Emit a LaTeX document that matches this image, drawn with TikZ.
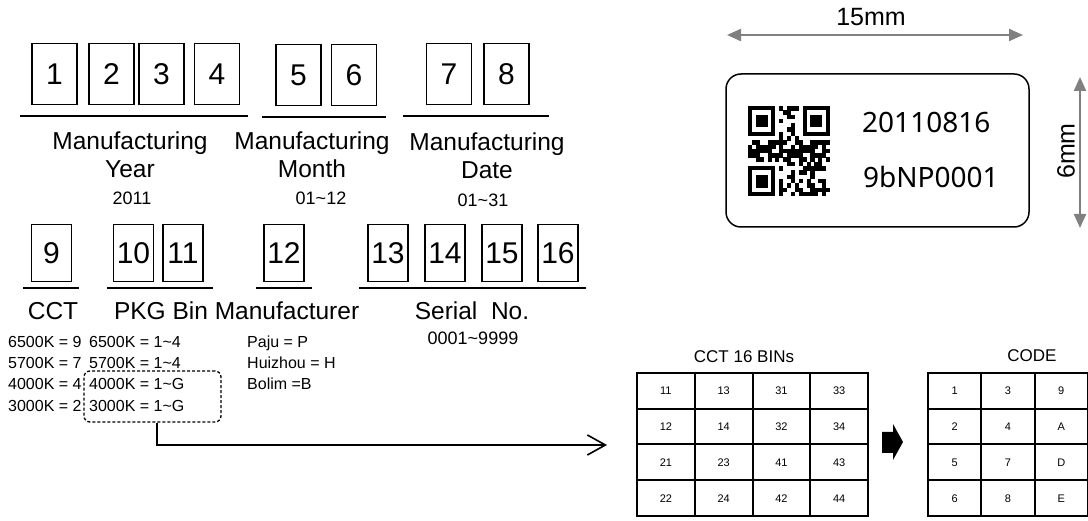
\documentclass[tikz,border=0pt]{standalone}
\usepackage{fontspec}
\setmainfont{Liberation Sans}
\newfontfamily\tagfont{Noto Sans}
\usepackage{tikz}
\usetikzlibrary{arrows.meta}
\definecolor{figline}{RGB}{0,0,0}
\definecolor{dimgray}{RGB}{128,128,128}
\newcommand{\fsz}[2]{\fontsize{#1}{#2}\selectfont}
\tikzset{
  dbox/.style ={draw=figline, line width=1.3pt, minimum width=45pt, minimum height=61pt, inner sep=0pt, font=\fsz{30}{34}},
  dboxs/.style={dbox, minimum width=40pt, minimum height=57pt},
  ul/.style   ={draw=figline, line width=2pt},
  lab/.style  ={font=\fsz{24.5}{28}, align=center, anchor=base, inner sep=0pt},
  val/.style  ={font=\fsz{18}{20}, anchor=base, inner sep=0pt},
  lst/.style  ={font=\fsz{16}{18}, anchor=base west, inner sep=0pt},
  dimarr/.style={draw=dimgray, line width=2.2pt, {Triangle[length=14pt,width=12pt]}-{Triangle[length=14pt,width=12pt]}},
  conn/.style ={draw=figline, line width=1.6pt, -{Straight Barb[length=18pt,width=20pt,line width=1.6pt]}},
  gridl/.style={draw=figline, line width=2pt, line cap=rect},
  cell/.style ={font=\fsz{11}{13}, inner sep=0pt},
  head/.style ={font=\fsz{17}{20}, anchor=base, inner sep=0pt},
}

\begin{document}
\begin{tikzpicture}[x=1pt,y=-1pt]
  \useasboundingbox (0,0) rectangle (1088,521);
  % code digit boxes, first row
  \node[dbox] (d1) at (54.5,74) {1};
  \node[dbox] (d2) at (111.5,74) {2};
  \node[dbox] (d3) at (161.5,74) {3};
  \node[dbox] (d4) at (217,74) {4};
  \node[dbox] (d5) at (298.5,75) {5};
  \node[dbox] (d6) at (354,75) {6};
  \node[dbox] (d7) at (449,74) {7};
  \node[dbox] (d8) at (506.5,74) {8};
  \draw[ul] (20,116) -- (248,116);
  \draw[ul] (262,117) -- (386,117);
  \draw[ul] (403,116) -- (549,116);
  \node[lab] (year) at (130,178) {Manufacturing\\Year};
  \node[lab] (month) at (312,178) {Manufacturing\\Month};
  \node[lab] (date) at (487,179) {Manufacturing\\Date};
  \node[val] (yearv) at (132,205) {2011};
  \node[val] (monthv) at (321,205) {01\textasciitilde 12};
  \node[val] (datev) at (483,207) {01\textasciitilde 31};
  % second row
  \node[dboxs] (d9) at (51.5,253) {9};
  \node[dboxs] (d10) at (133.5,253) {10};
  \node[dboxs] (d11) at (183,253) {11};
  \node[dboxs] (d12) at (284,253) {12};
  \node[dboxs] (d13) at (388,253) {13};
  \node[dboxs] (d14) at (445,253) {14};
  \node[dboxs] (d15) at (502,253) {15};
  \node[dboxs] (d16) at (558,253) {16};
  \draw[ul] (23,288) -- (79,288);
  \draw[ul] (107,288) -- (213,288);
  \draw[ul] (256,288) -- (312,288);
  \draw[ul] (359,288) -- (586,288);
  \node[lab] (cct) at (53,320) {CCT};
  \node[lab] (pkg) at (161,320) {PKG Bin};
  \node[lab] (maker) at (287,320) {Manufacturer};
  \node[lab] (serial) at (472,320) {Serial\ \ No.};
  \node[val] (serialv) at (473,345) {0001\textasciitilde 9999};
  % value lists
  \node[lst] (c1) at (8,348) {6500K = 9};
  \node[lst] (c2) at (8,369) {5700K = 7};
  \node[lst] (c3) at (8,390) {4000K = 4};
  \node[lst] (c4) at (8,412) {3000K = 2};
  \node[lst] (p1) at (89,348) {6500K = 1\textasciitilde 4};
  \node[lst] (p2) at (89,369) {5700K = 1\textasciitilde 4};
  \node[lst] (p3) at (89,390) {4000K = 1\textasciitilde G};
  \node[lst] (p4) at (89,412) {3000K = 1\textasciitilde G};
  \node[lst] (m1) at (247,348) {Paju = P};
  \node[lst] (m2) at (247,369) {Huizhou = H};
  \node[lst] (m3) at (247,390) {Bolim =B};
  \node[draw=figline, line width=1.3pt, dash pattern=on 3pt off 2pt, rounded corners=6pt,
        minimum width=137pt, minimum height=51pt, inner sep=0pt] (pkgsel) at (152.5,396.5) {};
  \coordinate (binsin) at (607,445);
  \draw[conn] ([xshift=4.5pt]pkgsel.south) |- (binsin);
  % label sample
  \draw[draw=figline, line width=1.5pt, rounded corners=15pt] (726,74) rectangle (1029,227);
  \begin{scope}[shift={(748,106)}, x=3.9pt, y=-4.29pt]
    \foreach \fx/\fy in {0/0,14/0,0/14}{
      \fill (\fx,\fy) rectangle +(7,7);
      \fill[white] (\fx+1,\fy+1) rectangle +(5,5);
      \fill (\fx+2,\fy+2) rectangle +(3,3);
    }
    \foreach \qi in {0,...,20}{\foreach \qj in {0,...,20}{
      \pgfmathtruncatemacro{\qv}{mod(\qi*\qi*3+\qj*\qj*5+\qi*\qj*7+\qi+2*\qj,11)}
      \pgfmathtruncatemacro{\qin}{((\qi<8)&&(\qj<8))||((\qi>12)&&(\qj<8))||((\qi<8)&&(\qj>12))}
      \ifnum\qin=0 \ifnum\qv<6 \fill (\qi,\qj) rectangle +(1.05,1.05); \fi\fi
    }}
  \end{scope}
  \node[font=\tagfont\fsz{28}{32}, anchor=base west, inner sep=0pt] (date8) at (862,133) {20110816};
  \node[font=\tagfont\fsz{28}{32}, anchor=base west, inner sep=0pt] (lot8) at (863,188) {9bNP0001};
  \coordinate (wl) at (727,35);
  \coordinate (wr) at (1023,35);
  \coordinate (ht) at (1080,77);
  \coordinate (hb) at (1080,228);
  \draw[dimarr] (wl) -- (wr);
  \draw[dimarr] (ht) -- (hb);
  \node[font=\fsz{25}{28}, anchor=base, inner sep=0pt] (wlab) at (871,26) {15mm};
  \node[font=\fsz{25}{28}, rotate=90, inner sep=0pt] (hlab) at (1066,151) {6mm};
  % bin tables
  \node[head] (binhead) at (744,363) {CCT 16 BINs};
  \foreach \xx in {637,694.75,752.5,810.25,868} \draw[gridl] (\xx,373) -- (\xx,516);
  \foreach \yy in {373,408.75,444.5,480.25,516} \draw[gridl] (637,\yy) -- (868,\yy);
  \foreach \v [count=\k from 0] in {11,13,31,33,12,14,32,34,21,23,41,43,22,24,42,44}{
    \pgfmathtruncatemacro{\rw}{div(\k,4)}
    \pgfmathtruncatemacro{\cl}{mod(\k,4)}
    \node[cell] (bin\k) at (665.9+57.75*\cl,391+35.75*\rw) {\v};
  }
  \fill[figline] (882,432) -- (893,432) -- (893,424) -- (903,442) -- (893,460) -- (893,453) -- (882,453) -- cycle;
  \node[head] (codehead) at (1032,362) {CODE};
  \foreach \xx in {928,981.3,1034.7,1088} \draw[gridl] (\xx,373) -- (\xx,516);
  \foreach \yy in {373,408.75,444.5,480.25,516} \draw[gridl] (928,\yy) -- (1088,\yy);
  \foreach \v [count=\k from 0] in {1,3,9,2,4,A,5,7,D,6,8,E}{
    \pgfmathtruncatemacro{\rw}{div(\k,3)}
    \pgfmathtruncatemacro{\cl}{mod(\k,3)}
    \node[cell] (code\k) at (954.7+53.3*\cl,391+35.75*\rw) {\v};
  }
\end{tikzpicture}
\end{document}
